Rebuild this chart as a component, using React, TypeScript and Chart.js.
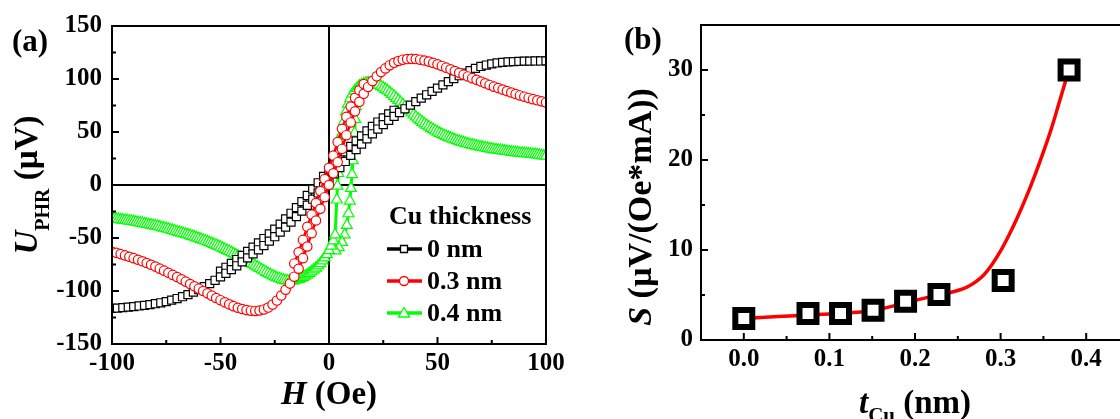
import React, { useEffect, useRef } from 'react';
import { Chart, registerables } from 'chart.js';

Chart.register(...registerables);

const FONT = "'Liberation Serif', 'Times New Roman', serif";
const RED = '#ff0000';
const GREEN = '#00ff00';
const BLACK = '#000000';

// ---------- Panel (a) ----------
const H_TICKS = [-100, -50, 0, 50, 100];
const H_MINOR = [-75, -25, 25, 75];
const U_TICKS = [-150, -100, -50, 0, 50, 100, 150];
const U_MINOR = [-125, -75, -25, 25, 75, 125];

const LEGEND_TITLE = 'Cu thickness';
const SERIES_LABELS = ['0 nm', '0.3 nm', '0.4 nm'];

const BLACK_H = [-100, -97.5, -95, -92.5, -90, -87.5, -85, -82.5, -80, -77.5, -75, -72.5, -70, -67.5, -65, -62.5, -60, -57.5, -55, -52.5, -50, -47.5, -45, -42.5, -40, -37.5, -35, -32.5, -30, -27.5, -25, -22.5, -20, -17.5, -15, -12.5, -10, -7.5, -5, -2.5, 0, 2.5, 5, 7.5, 10, 12.5, 15, 17.5, 20, 22.5, 25, 27.5, 30, 32.5, 35, 37.5, 40, 42.5, 45, 47.5, 50, 52.5, 55, 57.5, 60, 62.5, 65, 67.5, 70, 72.5, 75, 77.5, 80, 82.5, 85, 87.5, 90, 92.5, 95, 97.5, 100];
const BLACK_U = [-116.5, -116.1, -115.7, -115.2, -114.7, -114.1, -113.5, -112.8, -112, -111.1, -110, -108.6, -107.1, -105.4, -103.4, -101.1, -98.6, -95.9, -93, -89.9, -86.7, -83.3, -79.8, -76.2, -72.5, -68.8, -65, -61.1, -57.1, -53, -48.8, -44.4, -39.8, -35, -29.9, -24.6, -19.1, -13.4, -7.5, -1.5, 4.5, 10.5, 16.4, 22.2, 27.9, 33.4, 38.6, 43.6, 48.3, 52.8, 57, 61, 64.8, 68.4, 71.9, 75.3, 78.6, 81.9, 85.1, 88.3, 91.4, 94.5, 97.5, 100.4, 103.1, 105.6, 107.9, 110, 111.8, 113.2, 114.3, 115.1, 115.7, 116.1, 116.4, 116.6, 116.8, 116.9, 117, 117, 117.1];
const BLACK2_H = [-50, -47.5, -45, -42.5, -40, -37.5, -35, -32.5, -30, -27.5, -25, -22.5, -20, -17.5, -15, -12.5, -10, -7.5, -5, -2.5, 0, 2.5, 5, 7.5, 10, 12.5, 15, 17.5, 20, 22.5, 25, 27.5, 30];
const BLACK2_U = [-81.2, -77.6, -74, -70.3, -66.5, -62.7, -58.7, -54.6, -50.5, -46.2, -41.6, -36.9, -32, -26.7, -21.3, -15.7, -9.9, -3.9, 2.1, 8.1, 14, 19.9, 25.6, 31.2, 36.5, 41.6, 46.4, 51, 55.3, 59.4, 63.3, 67, 70.5];

const RED_H = [-100, -98, -96, -94, -92, -90, -88, -86, -84, -82, -80, -78, -76, -74, -72, -70, -68, -66, -64, -62, -60, -58, -56, -54, -52, -50, -48, -46, -44, -42, -40, -38, -36, -34, -32, -30, -28, -26, -24, -22, -20, -18, -16, -14, -12, -10, -8, -6, -4, -2, 0, 2, 4, 6, 8, 10, 12, 14, 16, 18, 20, 22, 24, 26, 28, 30, 32, 34, 36, 38, 40, 42, 44, 46, 48, 50, 52, 54, 56, 58, 60, 62, 64, 66, 68, 70, 72, 74, 76, 78, 80, 82, 84, 86, 88, 90, 92, 94, 96, 98, 100];
const RED_U = [-63, -64, -65.2, -66.4, -67.7, -69, -70.5, -72, -73.6, -75.3, -77, -78.9, -80.8, -82.8, -84.8, -86.9, -89, -91.2, -93.4, -95.6, -97.8, -100, -102.2, -104.4, -106.6, -108.7, -110.7, -112.6, -114.3, -115.8, -117, -118, -118.6, -118.8, -118.4, -117.4, -115.6, -112.8, -109, -104.3, -98.8, -93, -86.5, -79, -69, -58, -45.5, -33.5, -22.5, -11.5, 0, 11, 21.5, 34, 47, 59, 69.5, 78.5, 86, 92.5, 98, 102.5, 106.5, 110, 113, 115.3, 117, 118.2, 118.8, 119, 118.8, 118.2, 117.4, 116.4, 115.2, 113.8, 112.3, 110.7, 109.1, 107.5, 105.8, 104.1, 102.4, 100.8, 99.2, 97.6, 96, 94.4, 92.8, 91.4, 90, 88.6, 87.2, 85.8, 84.5, 83.3, 82.1, 81, 79.9, 78.9, 77.9];
const RED2_H = [-16, -14, -12, -10, -8, -6, -4, -2, 0, 2, 4, 6, 8, 10, 12, 14, 16];
const RED2_U = [-74, -63.5, -51.8, -39.5, -28, -17, -5.7, 5.5, 16.2, 27.7, 40.5, 53, 64.3, 74, 82.3, 89.3, 95.3];

const GREEN_H = [-100, -99, -98, -97, -96, -95, -94, -93, -92, -91, -90, -89, -88, -87, -86, -85, -84, -83, -82, -81, -80, -79, -78, -77, -76, -75, -74, -73, -72, -71, -70, -69, -68, -67, -66, -65, -64, -63, -62, -61, -60, -59, -58, -57, -56, -55, -54, -53, -52, -51, -50, -49, -48, -47, -46, -45, -44, -43, -42, -41, -40, -39, -38, -37, -36, -35, -34, -33, -32, -31, -30, -29, -28, -27, -26, -25, -24, -23, -22, -21, -20, -19, -18, -17, -16, -15, -14, -13, -12, -11, -10, -9, -8, -7, -6, -5, -4, -3, -2, -1, 0, 1, 2, 2.8, 3.6, 3.9, 4.3, 4.8, 5.4, 6.1, 6.9, 7.8, 8.8, 9.8, 10.8, 11.8, 13, 14, 15, 16, 17, 18, 19, 20, 21, 22, 23, 24, 25, 26, 27, 28, 29, 30, 31, 32, 33, 34, 35, 36, 37, 38, 39, 40, 41, 42, 43, 44, 45, 46, 47, 48, 49, 50, 51, 52, 53, 54, 55, 56, 57, 58, 59, 60, 61, 62, 63, 64, 65, 66, 67, 68, 69, 70, 71, 72, 73, 74, 75, 76, 77, 78, 79, 80, 81, 82, 83, 84, 85, 86, 87, 88, 89, 90, 91, 92, 93, 94, 95, 96, 97, 98, 99, 100];
const GREEN_U = [-31.5, -31.8, -32.1, -32.4, -32.7, -33, -33.3, -33.6, -33.9, -34.2, -34.5, -34.9, -35.3, -35.7, -36.1, -36.5, -36.9, -37.3, -37.7, -38.1, -38.5, -39, -39.5, -40, -40.5, -41, -41.6, -42.2, -42.8, -43.4, -44, -44.6, -45.2, -45.8, -46.4, -47, -47.6, -48.3, -49, -49.7, -50.4, -51.1, -51.9, -52.7, -53.5, -54.3, -55.1, -55.9, -56.8, -57.7, -58.6, -59.6, -60.6, -61.6, -62.6, -63.6, -64.6, -65.7, -66.8, -67.9, -69, -70.2, -71.4, -72.6, -73.8, -75, -76.2, -77.4, -78.6, -79.8, -81, -82.2, -83.4, -84.5, -85.6, -86.6, -87.5, -88.3, -89, -89.6, -90, -90.3, -90.4, -90.3, -90, -89.5, -88.8, -88, -87, -85.9, -84.7, -83.3, -81.7, -80, -78.2, -76.2, -74, -71.5, -68.7, -65.5, -61.8, -57.5, -52.5, -47, -14, -1, 11, 24, 37, 49, 60, 69, 76.5, 82, 86, 89, 91.3, 93.2, 94.6, 95.6, 96.2, 96.5, 96.5, 96.2, 95.7, 95, 94.1, 93, 91.8, 90.4, 88.9, 87.3, 85.6, 83.8, 81.9, 80, 78, 76, 74, 72, 70, 68.1, 66.2, 64.4, 62.6, 60.9, 59.3, 57.8, 56.3, 54.9, 53.6, 52.3, 51.1, 50, 48.9, 47.9, 46.9, 46, 45.1, 44.3, 43.5, 42.7, 42, 41.3, 40.6, 40, 39.4, 38.8, 38.3, 37.8, 37.3, 36.8, 36.3, 35.9, 35.5, 35.1, 34.7, 34.3, 33.9, 33.6, 33.3, 33, 32.7, 32.4, 32.1, 31.8, 31.5, 31.2, 30.9, 30.6, 30.4, 30.2, 30, 29.8, 29.6, 29.4, 29.2, 29, 28.8, 28.5, 28.2, 27.9, 27.6, 27.3];
const GREEN2_H = [14, 13, 12.6, 12.4, 12.1, 11.8, 11.4, 11, 10.6, 10.1, 9.6, 9, 8.2, 7.2, 6, 4.5, 3];
const GREEN2_U = [93.2, 91.3, 85, 74, 62, 49, 36, 23, 10, -3, -15, -27, -38, -47, -54, -59, -62];

// ---------- Panel (b) ----------
const T_TICKS = [0, 0.1, 0.2, 0.3, 0.4];
const T_MINOR = [0.05, 0.15, 0.25, 0.35];
const S_TICKS = [0, 10, 20, 30];
const S_MINOR = [5, 15, 25];
const T_CU = [0, 0.075, 0.113, 0.151, 0.189, 0.228, 0.303, 0.38];
const S_VAL = [2.4, 2.95, 2.95, 3.3, 4.3, 5.05, 6.6, 30];
const FIT_T = [0, 0.02, 0.04, 0.06, 0.08, 0.1, 0.12, 0.14, 0.16, 0.18, 0.2, 0.22, 0.24, 0.25, 0.26, 0.27, 0.28, 0.29, 0.3, 0.31, 0.32, 0.33, 0.34, 0.35, 0.36, 0.37, 0.376];
const FIT_S = [2.4, 2.5, 2.6, 2.7, 2.8, 2.9, 3.0, 3.15, 3.45, 3.9, 4.4, 4.85, 5.25, 5.5, 5.85, 6.4, 7.2, 8.4, 9.9, 11.7, 13.7, 15.9, 18.3, 20.9, 23.7, 26.9, 28.8];

const pts = (xs: number[], ys: number[]) => xs.map((x, i) => ({ x, y: ys[i] }));

type Part = { t: string; size: number; italic?: boolean; dy?: number };
const fontOf = (p: Part) => `${p.italic ? 'italic ' : ''}bold ${p.size}px ${FONT}`;

function drawTitle(ctx: CanvasRenderingContext2D, parts: Part[], x: number, y: number, rotate: boolean, align: 'center' | 'left' = 'center') {
  ctx.save();
  ctx.translate(x, y);
  if (rotate) ctx.rotate(-Math.PI / 2);
  ctx.fillStyle = '#000';
  ctx.textBaseline = 'alphabetic';
  ctx.textAlign = 'left';
  let total = 0;
  const widths = parts.map((p) => {
    ctx.font = fontOf(p);
    const w = ctx.measureText(p.t).width;
    total += w;
    return w;
  });
  let cur = align === 'center' ? -total / 2 : 0;
  parts.forEach((p, i) => {
    ctx.font = fontOf(p);
    ctx.fillText(p.t, cur, p.dy || 0);
    cur += widths[i];
  });
  ctx.restore();
}

function drawFrame(chart: any, xMaj: number[], xMin: number[], yMaj: number[], yMin: number[]) {
  const { ctx, chartArea: a, scales } = chart;
  const xs = scales.x;
  const ys = scales.y;
  ctx.save();
  ctx.strokeStyle = '#000';
  ctx.lineWidth = 2;
  ctx.strokeRect(a.left, a.top, a.right - a.left, a.bottom - a.top);
  ctx.beginPath();
  xMaj.forEach((v) => { const p = xs.getPixelForValue(v); ctx.moveTo(p, a.bottom); ctx.lineTo(p, a.bottom - 7); });
  xMin.forEach((v) => { const p = xs.getPixelForValue(v); ctx.moveTo(p, a.bottom); ctx.lineTo(p, a.bottom - 4); });
  yMaj.forEach((v) => { const p = ys.getPixelForValue(v); ctx.moveTo(a.left, p); ctx.lineTo(a.left + 7, p); });
  yMin.forEach((v) => { const p = ys.getPixelForValue(v); ctx.moveTo(a.left, p); ctx.lineTo(a.left + 4, p); });
  ctx.stroke();
  ctx.restore();
}

const tickFont = { family: FONT, size: 25, weight: 'bold' as const };

const panelAPlugin = {
  id: 'panelA',
  beforeDatasetsDraw(chart: any) {
    const { ctx, chartArea: a, scales } = chart;
    const x0 = scales.x.getPixelForValue(0);
    const y0 = scales.y.getPixelForValue(0);
    ctx.save();
    ctx.strokeStyle = '#000';
    ctx.lineWidth = 2;
    ctx.beginPath();
    ctx.moveTo(x0, a.top); ctx.lineTo(x0, a.bottom);
    ctx.moveTo(a.left, y0); ctx.lineTo(a.right, y0);
    ctx.stroke();
    ctx.restore();
  },
  afterDatasetsDraw(chart: any) {
    drawFrame(chart, H_TICKS, H_MINOR, U_TICKS, U_MINOR);
  },
  afterDraw(chart: any) {
    const { ctx, chartArea: a } = chart;
    const cx = (a.left + a.right) / 2;
    const cy = (a.top + a.bottom) / 2;
    drawTitle(ctx, [{ t: '(a)', size: 31 }], 12, 51, false, 'left');
    drawTitle(ctx, [{ t: 'H', size: 33, italic: true }, { t: ' (Oe)', size: 33 }], cx, 404, false);
    drawTitle(ctx, [{ t: 'U', size: 33, italic: true }, { t: 'PHR', size: 20, dy: 12 }, { t: ' (\u00b5V)', size: 33 }], 37, cy, true);
    // legend
    ctx.save();
    ctx.fillStyle = '#000';
    ctx.textBaseline = 'alphabetic';
    ctx.textAlign = 'left';
    ctx.font = `bold 26px ${FONT}`;
    ctx.fillText(LEGEND_TITLE, 389, 224);
    const colors = [BLACK, RED, GREEN];
    SERIES_LABELS.forEach((lab, i) => {
      const ry = 249 + i * 32;
      ctx.strokeStyle = colors[i];
      ctx.lineWidth = 3.5;
      ctx.beginPath();
      ctx.moveTo(387, ry); ctx.lineTo(422, ry);
      ctx.stroke();
      ctx.fillStyle = '#fff';
      ctx.lineWidth = 1.3;
      ctx.beginPath();
      if (i === 0) {
        ctx.rect(400.5, ry - 3.5, 7, 7);
      } else if (i === 1) {
        ctx.arc(404, ry, 4.5, 0, Math.PI * 2);
      } else {
        ctx.moveTo(404, ry - 5.5);
        ctx.lineTo(409.5, ry + 4);
        ctx.lineTo(398.5, ry + 4);
        ctx.closePath();
      }
      ctx.fill();
      ctx.stroke();
      ctx.fillStyle = '#000';
      ctx.font = `bold 26px ${FONT}`;
      ctx.fillText(lab, 427, ry + 8);
    });
    ctx.restore();
  },
};

const panelBPlugin = {
  id: 'panelB',
  afterDatasetsDraw(chart: any) {
    drawFrame(chart, T_TICKS, T_MINOR, S_TICKS, S_MINOR);
  },
  afterDraw(chart: any) {
    const { ctx, chartArea: a } = chart;
    const cx = (a.left + a.right) / 2;
    drawTitle(ctx, [{ t: '(b)', size: 31 }], 64, 49, false, 'left');
    drawTitle(ctx, [{ t: 'S', size: 34, italic: true }, { t: ' (\u00b5V/(Oe*mA))', size: 34 }], 91, 207, true);
    drawTitle(ctx, [{ t: 't', size: 33, italic: true }, { t: 'Cu', size: 21, dy: 9 }, { t: ' (nm)', size: 33 }], cx, 413, false);
  },
};

function makeAxis(min: number, max: number, ticks: number[], fit: (s: any) => void, fmt: (v: number) => string, padding: number) {
  return {
    type: 'linear' as const,
    min,
    max,
    afterBuildTicks: (s: any) => { s.ticks = ticks.map((v) => ({ value: v })); },
    afterFit: (s: any) => {
      fit(s);
      s.paddingLeft = 0;
      s.paddingRight = 0;
      s.paddingTop = 0;
      s.paddingBottom = 0;
    },
    grid: { display: false, drawTicks: false },
    border: { display: false },
    ticks: { font: tickFont, color: '#000', padding, maxRotation: 0, autoSkip: false, callback: (v: any) => fmt(Number(v)) },
  };
}

export default function App() {
  const refA = useRef<HTMLCanvasElement>(null);
  const refB = useRef<HTMLCanvasElement>(null);

  useEffect(() => {
    const common = (color: string, style: string, r: number, order: number, data: any, bw = 2.5) => ({
      data,
      showLine: true,
      borderColor: color,
      borderWidth: bw,
      pointStyle: style,
      pointRadius: r,
      pointBorderWidth: 1.2,
      pointBorderColor: color,
      pointBackgroundColor: '#ffffff',
      tension: 0,
      order,
      clip: 0,
    });
    const chartA = new Chart(refA.current!, {
      type: 'scatter',
      data: {
        datasets: [
          { label: SERIES_LABELS[1], ...common(RED, 'circle', 4.7, 1, pts(RED_H, RED_U)) },
          { label: SERIES_LABELS[1] + ' b', ...common(RED, 'circle', 4.7, 1, pts(RED2_H, RED2_U)) },
          { label: SERIES_LABELS[0], ...common(BLACK, 'rect', 5.7, 2, pts(BLACK_H, BLACK_U)) },
          { label: SERIES_LABELS[0] + ' b', ...common(BLACK, 'rect', 5.7, 2, pts(BLACK2_H, BLACK2_U)) },
          { label: SERIES_LABELS[2], ...common(GREEN, 'triangle', 6.3, 3, pts(GREEN_H, GREEN_U), 3) },
          { label: SERIES_LABELS[2] + ' b', ...common(GREEN, 'triangle', 6.3, 3, pts(GREEN2_H, GREEN2_U), 3) },
        ] as any,
      },
      options: {
        responsive: false,
        maintainAspectRatio: false,
        devicePixelRatio: 1,
        animation: false,
        events: [],
        layout: { padding: { left: 0, top: 26, right: 54, bottom: 0 } },
        plugins: { legend: { display: false }, tooltip: { enabled: false } },
        scales: {
          x: makeAxis(-100, 100, H_TICKS, (s) => { s.height = 75; }, (v) => String(v), 5),
          y: makeAxis(-150, 150, U_TICKS, (s) => { s.width = 112; }, (v) => String(v), 10),
        } as any,
      },
      plugins: [panelAPlugin],
    });

    const chartB = new Chart(refB.current!, {
      type: 'scatter',
      data: {
        datasets: [
          {
            label: 'S',
            data: pts(T_CU, S_VAL),
            showLine: false,
            pointStyle: 'rect',
            pointRadius: 12,
            pointBorderWidth: 6,
            pointBorderColor: BLACK,
            pointBackgroundColor: '#ffffff',
            order: 1,
          },
          {
            label: 'fit',
            data: pts(FIT_T, FIT_S),
            showLine: true,
            borderColor: RED,
            borderWidth: 3.5,
            pointRadius: 0,
            cubicInterpolationMode: 'monotone',
            order: 2,
          },
        ] as any,
      },
      options: {
        responsive: false,
        maintainAspectRatio: false,
        devicePixelRatio: 1,
        animation: false,
        events: [],
        layout: { padding: { left: 0, top: 25, right: 31, bottom: 0 } },
        plugins: { legend: { display: false }, tooltip: { enabled: false } },
        scales: {
          x: makeAxis(-0.05, 0.45, T_TICKS, (s) => { s.height = 79; }, (v) => v.toFixed(1), 5),
          y: makeAxis(0, 35, S_TICKS, (s) => { s.width = 141; }, (v) => String(v), 8),
        } as any,
      },
      plugins: [panelBPlugin],
    });

    return () => {
      chartA.destroy();
      chartB.destroy();
    };
  }, []);

  return (
    <div style={{ position: 'fixed', left: 0, top: 0, width: 1120, height: 419, overflow: 'hidden', background: '#fff' }}>
      <canvas ref={refA} width={600} height={419} style={{ position: 'absolute', left: 0, top: 0, width: 600, height: 419 }} />
      <canvas ref={refB} width={600} height={419} style={{ position: 'absolute', left: 560, top: 0, width: 600, height: 419 }} />
    </div>
  );
}
